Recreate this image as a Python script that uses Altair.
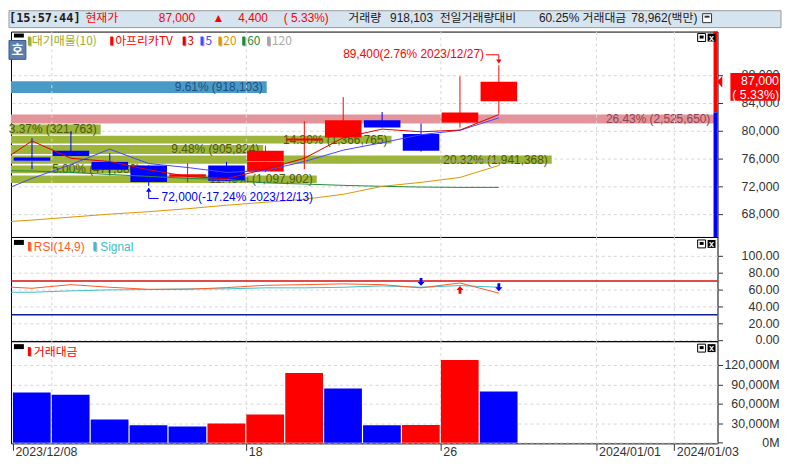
import altair as alt
import pandas as pd

# ------------------------------------------------------------------ data
dates = ["2023/12/08", "2023/12/11", "2023/12/12", "2023/12/13", "2023/12/14",
         "2023/12/15", "2023/12/18", "2023/12/19", "2023/12/20", "2023/12/21",
         "2023/12/22", "2023/12/26", "2023/12/27"]
opens = [76100, 77100, 75530, 74960, 73340, 74960, 74100, 78570, 79000, 81490, 79490, 81140, 84200]
highs = [78900, 79900, 76700, 75000, 75290, 75530, 77800, 81340, 84800, 82670, 81000, 87800, 89400]
lows = [74430, 76300, 73530, 72000, 72570, 72700, 74000, 74430, 78900, 80430, 76960, 80430, 82400]
closes = [75600, 76340, 74340, 72570, 73710, 72770, 77100, 78860, 81490, 80430, 77100, 82600, 87000]

ma_slots = [-1, 0, 1, 2, 3, 4, 5, 6, 7, 8, 9, 10, 11, 12]
ma3 = [74770, 78490, 76000, 75530, 74340, 73390, 73060, 74430, 76000, 78960, 80200, 79810, 80060, 82290]
ma5 = [70810, 73100, 75100, 77310, 75240, 74670, 73960, 74240, 75530, 77170, 78240, 79390, 80030, 81810]
ma20 = [66740, 67100, 67530, 67960, 68310, 68740, 69240, 69670, 70100, 70810, 71960, 72530, 73240, 74960]
ma60 = [74240, 74170, 73960, 73670, 73390, 73100, 72960, 72460, 72290, 72100, 71960, 71860, 71810, 71810]
ma120 = [75600, 75580, 75570, 75560, 75550, 75540, 75530, 75530, 75530, 75540, 75560, 75580, 75600, 75620]

rsi = [63.7, 61.3, 65.6, 62.5, 60.1, 60.1, 62.1, 64.8, 65.6, 66.5, 65.6, 61.8, 67.6, 55.5]
signal = [56.6, 56.6, 58.2, 59.4, 59.8, 60.6, 60.6, 61.8, 61.8, 62.5, 64.1, 62.5, 64.5, 62.5]
sig_down_slots = [10, 12]
sig_up_slots = [11]
rsi_levels = [70, 30]

volume = [77450, 73930, 35660, 26940, 24950, 29540, 43320, 107600, 83570, 26940, 27200, 127500, 78962]
vol_up = [False, False, False, False, False, True, True, True, False, False, True, True, False]

prof_pct = [9.61, 26.43, 3.37, 14.30, 9.48, 20.32, 5.00, 11.49]
prof_vol = ["918,103", "2,525,650", "321,763", "1,366,765", "905,824", "1,941,368", "477,680", "1,097,902"]
prof_hi = [87100, 82290, 80860, 79240, 77910, 76390, 74960, 73530]
prof_lo = [85390, 81000, 79430, 78140, 76630, 75200, 73860, 72430]
prof_kind = ["cur", "max", "n", "n", "n", "n", "n", "n"]

x_tick_slots = [0, 6, 11, 15, 17]
x_tick_labels = ["2023/12/08", "18", "26", "2024/01/01", "2024/01/03"]
grid_slots = [1, 6, 11, 15, 17]
price_ticks = [68000, 72000, 76000, 80000, 84000, 88000]
rsi_ticks = [0, 20, 40, 60, 80, 100]
vol_ticks = [0, 30000, 60000, 90000, 120000]

hi_label = "89,400(2.76% 2023/12/27)"
lo_label = "72,000(-17.24% 2023/12/13)"
cur_change = "( 5.33%)"

header_items = [
    ("[15:57:44]", "#202020"), ("현재가", "#ff0000"), ("87,000", "#ff0000"), ("▲", "#ff0000"),
    ("4,400", "#ff0000"), ("( 5.33%)", "#ff0000"), ("거래량", "#202020"), ("918,103", "#202020"),
    ("전일거래량대비", "#202020"), ("60.25%", "#202020"), ("거래대금", "#202020"),
    ("78,962(백만)", "#202020"),
]
legend_items = [("대기매물(10)", "#9aad2a"), ("아프리카TV", "#ff0000"), ("3", "#e00000"),
                ("5", "#4646ff"), ("20", "#e09400"), ("60", "#1f8a3c"), ("120", "#a8a8a8")]

# ------------------------------------------------------------------ layout / style
W = 712
H_HEAD, H_MAIN, H_RSI, H_VOL = 21, 207, 105, 103
XDOM = [-0.05, 18.11]
FONT = "Liberation Sans, DejaVu Sans, Noto Sans CJK KR"
KFONT = "Noto Sans CJK KR"
MONO = "DejaVu Sans Mono"
TXT = "#333333"
RED, BLUE = "#ff0000", "#0000ff"

ONE = pd.DataFrame({"k": [0]})
xs = alt.Scale(domain=XDOM, nice=False, zero=False)
ys_main = alt.Scale(domain=[64670, 94240], nice=False, zero=False)
ys_rsi = alt.Scale(domain=[-1.4, 122.1], nice=False, zero=False)
ys_vol = alt.Scale(domain=[-1070, 156600], nice=False, zero=False)


def vtext(x, y, text, align="left", **kw):
    return alt.Chart(ONE).mark_text(align=align, baseline="middle", **kw).encode(
        x=alt.value(x), y=alt.value(y), text=alt.value(text))


def vrect(x, x2, y, y2, **kw):
    return alt.Chart(ONE).mark_rect(**kw).encode(
        x=alt.value(x), x2=alt.value(x2), y=alt.value(y), y2=alt.value(y2))


def yaxis(values, fmt=None, expr=None):
    kw = dict(orient="right", values=values, grid=True, gridDash=[3, 3], gridColor="#d6d6d6",
              domain=False, tickSize=5, tickColor=TXT, labelAlign="right", labelBaseline="middle",
              labelPadding=57, labelFont=FONT, labelFontSize=12.5, labelColor=TXT, title=None,
              labelOverlap=False, labelFlush=False, zindex=0)
    if fmt:
        kw["format"] = fmt
    if expr:
        kw["labelExpr"] = expr
    return alt.Axis(**kw)


AX_MAIN = yaxis(price_ticks, fmt=",d")
AX_RSI = yaxis(rsi_ticks, fmt=".2f")
AX_VOL = yaxis(vol_ticks, expr="format(datum.value, ',') + 'M'")
expr = "".join(f"datum.value == {s} ? '{l}' : " for s, l in zip(x_tick_slots, x_tick_labels)) + "''"
AX_X = alt.Axis(values=x_tick_slots, labelExpr=expr, grid=False, domain=False, tickSize=7,
                tickColor=TXT, labelAlign="left", labelBaseline="top", labelPadding=-5,
                labelOffset=2, labelFont=FONT, labelFontSize=12.5, labelColor=TXT, title=None,
                labelOverlap=False, labelFlush=False)


def YM(f):
    return alt.Y(f, scale=ys_main, axis=AX_MAIN)


def YR(f):
    return alt.Y(f, scale=ys_rsi, axis=AX_RSI)


def XS(f, ax=None):
    return alt.X(f, scale=xs, axis=ax)


def icons(y):
    return [
        vrect(692, 700, y, y + 8, fill="white", stroke="black", strokeWidth=1),
        vrect(694, 698, y + 2, y + 5, fill="black"),
        vrect(702, 710, y, y + 8, fill="black"),
        vtext(706, y + 4, "x", align="center", color="white", font=FONT, fontSize=9, fontWeight="bold"),
    ]


def vgrid(ax=None):
    return alt.Chart(pd.DataFrame({"g": grid_slots})).mark_rule(
        color="#d6d6d6", strokeDash=[3, 3]).encode(x=XS("g:Q", ax))


# ------------------------------------------------------------------ header
head_x = [-2, 75, 149, 203, 229, 275, 340, 382, 432, 532, 576, 625]
head_layers = [vrect(-2, 776, 0, 17, fill="#d6e4f0", stroke="#9a9a9a", strokeWidth=1)]
for i, ((t, c), x) in enumerate(zip(header_items, head_x)):
    if i == 0:
        head_layers.append(vtext(x, 7, t, color=c, font=MONO, fontSize=12, fontWeight="bold"))
    else:
        head_layers.append(vtext(x, 7, t, color=c, font=FONT, fontSize=12))
head_layers += [vrect(697, 706, 3, 12, fill="white", stroke="#333", strokeWidth=1),
                vrect(699, 704, 5, 7, fill="#333")]
header = alt.layer(*head_layers).properties(
    width=W, height=H_HEAD, view=alt.ViewBackground(stroke="transparent"))

# ------------------------------------------------------------------ main panel
n = len(dates)
cdf = pd.DataFrame({"slot": list(range(n)), "open": opens, "high": highs, "low": lows, "close": closes})
cdf["x0"] = cdf["slot"] + 0.02
cdf["x1"] = cdf["slot"] + 0.96
cdf["xc"] = cdf["slot"] + 0.49
cdf["col"] = [RED if c >= o else BLUE for o, c in zip(opens, closes)]

wick = alt.Chart(cdf).mark_rule(strokeWidth=1).encode(
    x=XS("xc:Q"), y=YM("low:Q"), y2="high:Q", color=alt.Color("col:N", scale=None))
body = alt.Chart(cdf).mark_rect().encode(
    x=XS("x0:Q"), x2="x1:Q", y=YM("open:Q"), y2="close:Q", color=alt.Color("col:N", scale=None))

madf = pd.DataFrame({"slot": ma_slots, "ma3": ma3, "ma5": ma5, "ma20": ma20, "ma60": ma60, "ma120": ma120})
madf["xc"] = madf["slot"] + 0.49
ma_colors = {"ma120": "#a0a0a0", "ma60": "#1f8a3c", "ma20": "#e09400", "ma5": "#4646ff", "ma3": "#e00000"}
ma_layers = [alt.Chart(madf).mark_line(clip=True, strokeWidth=1, color=c).encode(
    x=XS("xc:Q"), y=YM(f"{k}:Q")) for k, c in ma_colors.items()]

# profile (대기매물) bars with their own horizontal scale
pdf = pd.DataFrame({"pct": prof_pct, "vol": prof_vol, "hi": prof_hi, "lo": prof_lo, "kind": prof_kind})
pdf["z"] = 0.0
pdf["mid"] = (pdf["hi"] + pdf["lo"]) / 2
pdf["label"] = [f"{p:.2f}% ({v})" for p, v in zip(prof_pct, prof_vol)]
fills = {"cur": "#4a9ac8", "max": "#e3949b", "n": "#9db53a"}
tcols = {"cur": "#1d4f80", "max": "#8c4452", "n": "#4d5a12"}
pdf["fill"] = pdf["kind"].map(fills)
pdf["tcol"] = pdf["kind"].map(tcols)
pscale = alt.Scale(domain=[0, 26.55], nice=False, zero=False)
pbars = alt.Chart(pdf).mark_rect().encode(
    x=alt.X("z:Q", scale=pscale, axis=None), x2="pct:Q",
    y=YM("lo:Q"), y2="hi:Q", color=alt.Color("fill:N", scale=None))
ptext = alt.Chart(pdf).mark_text(align="right", baseline="middle", dx=-4, font=FONT, fontSize=12).encode(
    x=alt.X("pct:Q", scale=pscale, axis=None), y=YM("mid:Q"),
    text="label:N", color=alt.Color("tcol:N", scale=None))
profile = alt.layer(pbars, ptext)

# high / low annotations
hi_i = highs.index(max(highs))
lo_i = lows.index(min(lows))
hdf = pd.DataFrame({"xc": [hi_i + 0.49], "p": [highs[hi_i]], "t": [hi_label]})
ldf = pd.DataFrame({"xc": [lo_i + 0.49], "p": [lows[lo_i]], "t": [lo_label]})
down_arrow = "M-0.35,-1L0.35,-1L0.35,0L0.9,0L0,1L-0.9,0L-0.35,0Z"
up_arrow = "M-0.35,1L0.35,1L0.35,0L0.9,0L0,-1L-0.9,0L-0.35,0Z"
tri_down = "M-1,-0.6L1,-0.6L0,0.8Z"
tri_up = "M-1,0.6L1,0.6L0,-0.8Z"

ann = [
    alt.Chart(hdf).mark_text(align="right", baseline="middle", dx=-15, dy=-11, color=RED,
                             font=FONT, fontSize=12).encode(x=XS("xc:Q"), y=YM("p:Q"), text="t:N"),
    alt.Chart(hdf).mark_rule(color=RED, xOffset=-13, x2Offset=0, yOffset=-10.5).encode(
        x=XS("xc:Q"), x2="xc:Q", y=YM("p:Q")),
    alt.Chart(hdf).mark_rule(color=RED, yOffset=-10.5, y2Offset=-3).encode(
        x=XS("xc:Q"), y=YM("p:Q"), y2="p:Q"),
    alt.Chart(hdf).mark_point(shape=tri_down, filled=True, size=30, color=RED, opacity=1,
                              yOffset=-4).encode(x=XS("xc:Q"), y=YM("p:Q")),
    alt.Chart(ldf).mark_text(align="left", baseline="middle", dx=13, dy=11.5, color=BLUE,
                             font=FONT, fontSize=12).encode(x=XS("xc:Q"), y=YM("p:Q"), text="t:N"),
    alt.Chart(ldf).mark_rule(color=BLUE, xOffset=0, x2Offset=10, yOffset=12.5).encode(
        x=XS("xc:Q"), x2="xc:Q", y=YM("p:Q")),
    alt.Chart(ldf).mark_rule(color=BLUE, yOffset=2, y2Offset=12.5).encode(
        x=XS("xc:Q"), y=YM("p:Q"), y2="p:Q"),
    alt.Chart(ldf).mark_point(shape=tri_up, filled=True, size=30, color=BLUE, opacity=1,
                              yOffset=4).encode(x=XS("xc:Q"), y=YM("p:Q")),
]

# current price marker on the right
curdf = pd.DataFrame({"p": [closes[-1]], "prev": [closes[-2]],
                      "t1": [f"{closes[-1]:,}"], "t2": [cur_change]})
right_marks = [
    alt.Chart(curdf).mark_rect(color=RED).encode(
        x=alt.value(708), x2=alt.value(712), y=YM("prev:Q"), y2=alt.value(0)),
    alt.Chart(curdf).mark_rect(color=BLUE).encode(
        x=alt.value(708), x2=alt.value(712), y=YM("prev:Q"), y2=alt.value(H_MAIN)),
    alt.Chart(curdf).mark_rect(color=RED, yOffset=-9, y2Offset=19).encode(
        x=alt.value(725), x2=alt.value(775), y=YM("p:Q"), y2="p:Q"),
    alt.Chart(curdf).mark_point(shape="M-1,0L-0.15,-1L-0.15,1Z", filled=True, size=144, color=RED,
                                opacity=1).encode(x=alt.value(717.7), y=YM("p:Q")),
    alt.Chart(curdf).mark_text(align="right", baseline="middle", dy=-1, color="white",
                               font=FONT, fontSize=12.5).encode(x=alt.value(774), y=YM("p:Q"), text="t1:N"),
    alt.Chart(curdf).mark_text(align="right", baseline="middle", dy=13, color="white",
                               font=FONT, fontSize=12.5).encode(x=alt.value(774), y=YM("p:Q"), text="t2:N"),
]

# legend row / buttons
leg_marker_x = [17, 100, 173, 191, 209, 233, 258]
leg_text_x = [21, 105, 178, 196, 214, 238, 263]
main_deco = [vrect(3, 13, 2, 6, fill="black"),
             vrect(-2, 15, 9, 28, fill="#5b7faf", stroke="#3a5a8a", strokeWidth=1),
             vtext(6.5, 18.5, "호", align="center", color="white", font=KFONT, fontSize=13, fontWeight="bold")]
for (t, c), mx, tx in zip(legend_items, leg_marker_x, leg_text_x):
    main_deco.append(vrect(mx + 1, mx + 4, 6, 15, fill="#b8b8b8"))
    main_deco.append(vrect(mx, mx + 3, 5, 14, fill=c))
    main_deco.append(vtext(tx, 9.5, t, color=c, font=KFONT, fontSize=12))
main_deco += icons(2)

slot_layer = alt.layer(vgrid(), body, wick, *ma_layers, *ann, *right_marks, *main_deco)
main = alt.layer(profile, slot_layer).resolve_scale(x="independent").properties(
    width=W, height=H_MAIN, view=alt.ViewBackground(stroke="black", strokeWidth=1))

# ------------------------------------------------------------------ RSI panel
rdf = pd.DataFrame({"slot": ma_slots, "rsi": rsi, "sig": signal})
rdf["xc"] = rdf["slot"] + 0.49
lvl = pd.DataFrame({"v": rsi_levels, "c": ["#d41010", "#0c1f96"]})
rsi_at = dict(zip(ma_slots, rsi))
adown = pd.DataFrame({"xc": [s + 0.49 for s in sig_down_slots], "v": [rsi_at[s] for s in sig_down_slots]})
aup = pd.DataFrame({"xc": [s + 0.49 for s in sig_up_slots], "v": [rsi_at[s] for s in sig_up_slots]})

rsi_layers = [
    vgrid(),
    alt.Chart(lvl).mark_rule(strokeWidth=1.5).encode(y=YR("v:Q"), color=alt.Color("c:N", scale=None)),
    alt.Chart(rdf).mark_line(clip=True, strokeWidth=1, color="#3cc0c8").encode(x=XS("xc:Q"), y=YR("sig:Q")),
    alt.Chart(rdf).mark_line(clip=True, strokeWidth=1, color="#ff5a28").encode(x=XS("xc:Q"), y=YR("rsi:Q")),
    alt.Chart(adown).mark_point(shape=down_arrow, filled=True, size=64, color=BLUE, opacity=1,
                                yOffset=-6).encode(x=XS("xc:Q"), y=YR("v:Q")),
    alt.Chart(aup).mark_point(shape=up_arrow, filled=True, size=64, color=RED, opacity=1,
                              yOffset=7).encode(x=XS("xc:Q"), y=YR("v:Q")),
    vrect(3, 13, 3, 8, fill="black"),
    vrect(18, 21, 6, 15, fill="#b8b8b8"), vrect(17, 20, 5, 14, fill="#ff5a28"),
    vtext(23, 10, "RSI(14,9)", color="#ff5a28", font=FONT, fontSize=12),
    vrect(84, 87, 6, 15, fill="#b8b8b8"), vrect(83, 86, 5, 14, fill="#3cc0c8"),
    vtext(90, 10, "Signal", color="#3cc0c8", font=FONT, fontSize=12),
    *icons(3),
]
rsi_chart = alt.layer(*rsi_layers).properties(
    width=W, height=H_RSI, view=alt.ViewBackground(stroke="black", strokeWidth=1))

# ------------------------------------------------------------------ volume panel (거래대금)
vdf = pd.DataFrame({"slot": list(range(n)), "vol": volume})
vdf["x0"] = vdf["slot"] + 0.0
vdf["x1"] = vdf["slot"] + 0.97
vdf["z"] = 0
vdf["col"] = [RED if u else BLUE for u in vol_up]

vol_layers = [
    vgrid(AX_X),
    alt.Chart(vdf).mark_rect().encode(
        x=XS("x0:Q", AX_X), x2="x1:Q",
        y=alt.Y("vol:Q", scale=ys_vol, axis=AX_VOL),
        y2="z:Q", color=alt.Color("col:N", scale=None)),
    vrect(3, 13, 3, 8, fill="black"),
    vrect(18, 21, 7, 16, fill="#b8b8b8"), vrect(17, 20, 6, 15, fill=RED),
    vtext(23, 10.5, "거래대금", color=RED, font=KFONT, fontSize=12),
    *icons(3),
]
vol_chart = alt.layer(*vol_layers).properties(
    width=W, height=H_VOL, view=alt.ViewBackground(stroke="black", strokeWidth=1))

chart = alt.vconcat(header, main, rsi_chart, vol_chart, spacing=0, bounds="flush").properties(
    padding={"left": 0, "top": 0, "right": 0, "bottom": 0}, background="white")

chart.save("out.html", embed_options={"renderer": "svg", "actions": False})
